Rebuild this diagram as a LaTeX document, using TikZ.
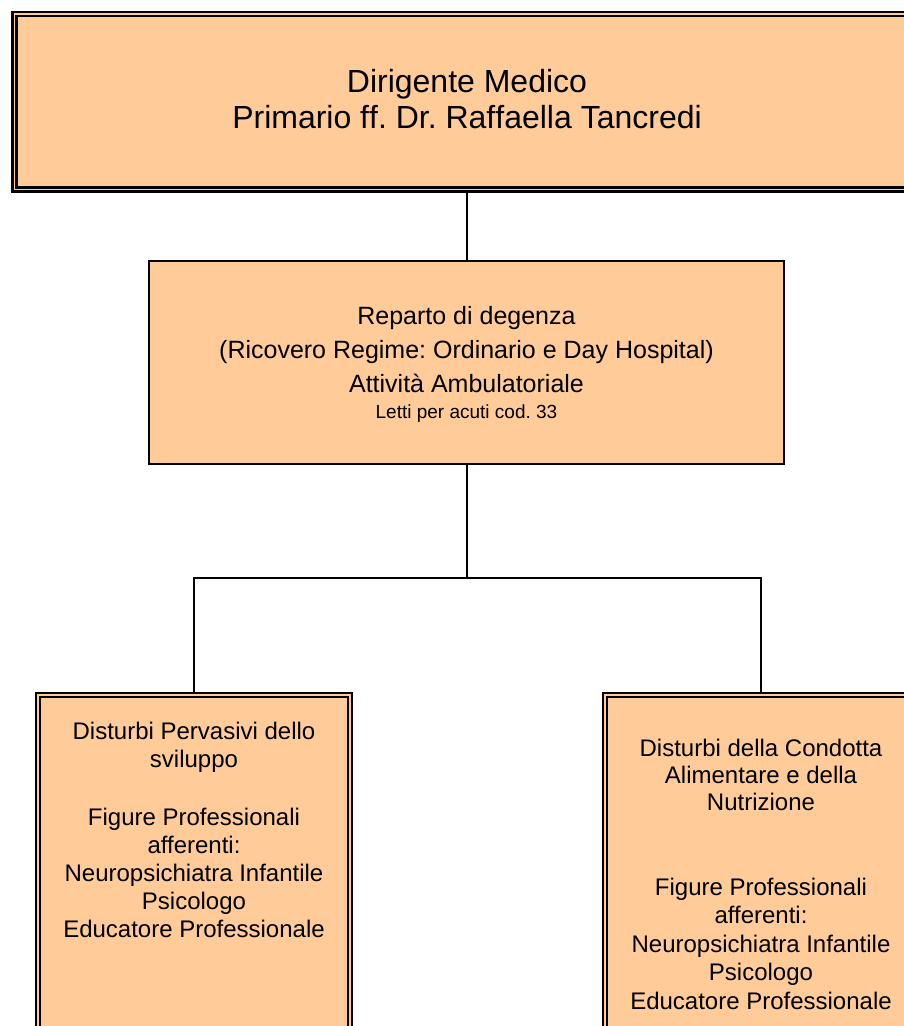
\documentclass[tikz,border=0pt]{standalone}
\usepackage{fontspec}
\setmainfont[Ligatures=NoCommon]{Liberation Sans}
\usetikzlibrary{backgrounds}
\definecolor{peach}{HTML}{FFCC99}
\begin{document}
\frenchspacing
\begin{tikzpicture}[x=1pt,y=-1pt,
  dbox/.style={draw=black, line width=2.8pt, double=peach, double distance=1.3pt,
    fill=peach, inner sep=0pt, outer sep=0pt},
  sbox/.style={draw=black, line width=2.6pt, fill=peach, inner sep=0pt, outer sep=0pt},
  txt/.style={align=center, inner sep=0pt, text=black},
  link/.style={draw=black, line width=2pt}]
\useasboundingbox (0,0) rectangle (904,1026);
% boxes
\node[dbox, minimum width=903.4pt, minimum height=175.5pt] (top) at (466.5,101.75) {};
\node[txt, font=\fontsize{32}{36.8}\selectfont] (toptxt) at (467,99)
  {Dirigente Medico\\Primario f\kern0ptf. Dr. Raf\kern0ptfaella Tancredi};
\node[sbox, minimum width=635pt, minimum height=203pt] (mid) at (466.5,362.5) {};
\node[txt, font=\fontsize{25}{34}\selectfont] (midtxt) at (466.5,364.5)
  {Reparto di degenza\\(Ricovero Regime: Ordinario e Day Hospital)\\Attività Ambulatoriale\\[-8pt]{\fontsize{19}{22}\selectfont Letti per acuti cod. 33}};
\node[dbox, minimum width=312pt, minimum height=345pt] (left) at (194,867.5) {};
\node[txt, font=\fontsize{24}{28}\selectfont] (lefttxt) at (194,830)
  {Disturbi Pervasivi dello\\sviluppo\\[30pt]Figure Professionali\\afferenti:\\Neuropsichiatra Infantile\\Psicologo\\Educatore Professionale};
\node[dbox, minimum width=312pt, minimum height=345pt] (right) at (761,867.5) {};
\node[txt, font=\fontsize{24}{28.6}\selectfont] (righttxt) at (761,874.5)
  {Disturbi della Condotta\\[-1.6pt]Alimentare e della\\[-1.6pt]Nutrizione\\[56pt]Figure Professionali\\afferenti:\\Neuropsichiatra Infantile\\Psicologo\\Educatore Professionale};
\coordinate (j) at (466.5,578);
% connectors
\begin{scope}[on background layer]
\draw[link] (top.south) -- (mid.north);
\draw[link] (mid.south) -- (j);
\draw[link] (j) -| (left.north);
\draw[link] (j) -| (right.north);
\end{scope}
\end{tikzpicture}
\end{document}
